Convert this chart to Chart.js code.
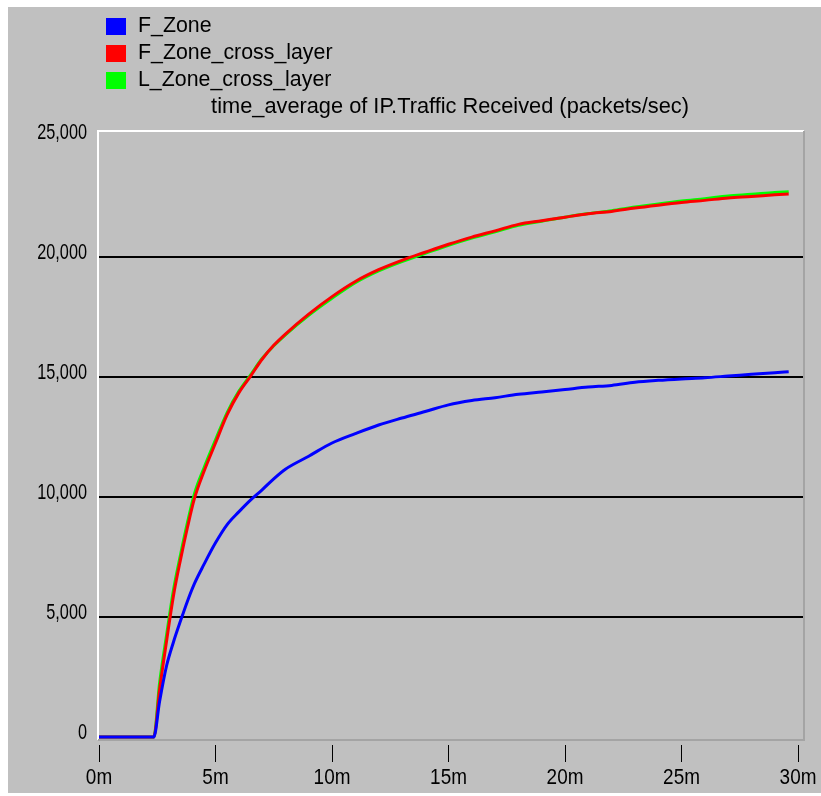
<!DOCTYPE html>
<html>
<head>
<meta charset="utf-8">
<script src="https://cdn.jsdelivr.net/npm/chart.js@4.4.1/dist/chart.umd.min.js"></script>
<style>
	body { margin: 0; background: #fff; }
	canvas { display: block; }
</style>
</head>
<body>
<canvas id="graficoTrafego" width="821" height="796"></canvas>
<script>
// tempo em minutos
var minutos = [0, 2.35, 2.6, 2.9, 3.2, 3.5, 3.8, 4.1, 4.5, 5, 5.5, 6, 6.5, 7, 7.5, 8, 9, 10, 11, 12, 13, 14, 15,
	16, 17, 18, 19, 20, 21, 22, 23, 24, 25, 26, 27, 28, 29, 29.6];

var fZone = [0, 0, 1480, 2970, 3970, 4840, 5670, 6400, 7180, 8090, 8850, 9380, 9870, 10300, 10760, 11160, 11700,
	12250, 12640, 13000, 13290, 13560, 13840, 14020, 14140, 14280, 14380, 14480, 14580, 14650, 14780, 14860,
	14920, 14970, 15040, 15110, 15180, 15220];

var fZoneCross = [0, 0, 1980, 4000, 5910, 7400, 8750, 9950, 11050, 12250, 13430, 14340, 15030, 15740, 16320,
	16790, 17620, 18350, 18980, 19470, 19860, 20200, 20530, 20830, 21090, 21360, 21510, 21660, 21800, 21900,
	22040, 22160, 22270, 22360, 22460, 22520, 22590, 22625];

var lZoneCross = [0, 0, 2250, 4250, 6150, 7600, 8950, 10150, 11200, 12380, 13520, 14400, 15080, 15770, 16300,
	16760, 17570, 18280, 18930, 19420, 19810, 20150, 20490, 20790, 21050, 21320, 21490, 21660, 21810, 21930,
	22080, 22210, 22330, 22430, 22540, 22610, 22690, 22720];

var nomes = ['F_Zone', 'F_Zone_cross_layer', 'L_Zone_cross_layer'];
var cores = ['#0000ff', '#ff0000', '#00ff00'];
var ticksY = [0, 5000, 10000, 15000, 20000, 25000];
var ticksX = [0, 5, 10, 15, 20, 25, 30];
var titulo = 'time_average of IP.Traffic Received (packets/sec)';

var fonte = '22px "Liberation Sans", Arial, sans-serif';

function pontos(valores) {
	return minutos.map(function(m, i) {
		return { x: m, y: valores[i] };
	});
}

// a fonte da imagem original e estreita nos numeros
function texto(ctx, t, x, y, alinhamento, estreito) {
	ctx.save();
	ctx.translate(x, y);
	ctx.scale(estreito, 1);
	ctx.font = fonte;
	ctx.fillStyle = '#000';
	ctx.textAlign = alinhamento;
	ctx.textBaseline = 'middle';
	ctx.fillText(t, 0, 0);
	ctx.restore();
}

var fundo = {
	id: 'fundo',
	beforeDraw: function(chart) {
		var ctx = chart.ctx;
		ctx.save();
		ctx.fillStyle = '#ffffff';
		ctx.fillRect(0, 0, chart.width, chart.height);
		ctx.fillStyle = '#c0c0c0';
		ctx.fillRect(8, 7, chart.width - 8, chart.height - 10);
		ctx.restore();
	},
	beforeDatasetsDraw: function(chart) {
		var ctx = chart.ctx;
		var a = chart.chartArea;
		var base = a.bottom - 5;
		ctx.save();
		ctx.lineWidth = 2;
		ctx.strokeStyle = '#ffffff';
		ctx.beginPath();
		ctx.moveTo(a.left + 1, base);
		ctx.lineTo(a.left + 1, a.top + 1);
		ctx.lineTo(a.right - 1, a.top + 1);
		ctx.stroke();
		ctx.strokeStyle = '#a4a4a4';
		ctx.beginPath();
		ctx.moveTo(a.right - 1, a.top + 1);
		ctx.lineTo(a.right - 1, base);
		ctx.lineTo(a.left + 1, base);
		ctx.stroke();
		ctx.restore();
	},
	afterDraw: function(chart) {
		var ctx = chart.ctx;
		var sx = chart.scales.x;
		var sy = chart.scales.y;

		ticksY.forEach(function(v) {
			texto(ctx, v.toLocaleString('en-US'), 87, sy.getPixelForValue(v) - 4, 'right', 0.74);
		});
		ticksX.forEach(function(v) {
			texto(ctx, v + 'm', sx.getPixelForValue(v), 778, 'center', 0.86);
		});

		chart.data.datasets.forEach(function(ds, i) {
			var y = 26 + i * 27;
			ctx.fillStyle = ds.borderColor;
			ctx.fillRect(106, y - 8, 20, 17);
			texto(ctx, ds.label, 138, y, 'left', 0.97);
		});
		texto(ctx, titulo, 450, 107, 'center', 0.99);
	}
};

var grafico = new Chart(document.getElementById('graficoTrafego').getContext('2d'), {
	type: 'line',
	data: {
		datasets: [
			{ label: nomes[0], data: pontos(fZone), borderColor: cores[0], backgroundColor: cores[0] },
			{ label: nomes[1], data: pontos(fZoneCross), borderColor: cores[1], backgroundColor: cores[1] },
			{ label: nomes[2], data: pontos(lZoneCross), borderColor: cores[2], backgroundColor: cores[2] }
		]
	},
	options: {
		responsive: false,
		animation: false,
		devicePixelRatio: 1,
		layout: { padding: { top: 130, right: 16, left: 0, bottom: 0 } },
		elements: {
			line: { borderWidth: 3, cubicInterpolationMode: 'monotone', fill: false },
			point: { radius: 0 }
		},
		plugins: {
			legend: { display: false },
			title: { display: false },
			tooltip: { enabled: false }
		},
		scales: {
			x: {
				type: 'linear',
				min: -0.086,
				max: 30.3,
				afterBuildTicks: function(scale) {
					scale.ticks = ticksX.map(function(v) { return { value: v }; });
				},
				afterFit: function(scale) { scale.height = 51; },
				ticks: { display: false },
				grid: { drawOnChartArea: false, color: '#000', tickLength: 17, lineWidth: 1 },
				border: { display: false }
			},
			y: {
				min: -333,
				max: 25292,
				afterBuildTicks: function(scale) {
					scale.ticks = ticksY.map(function(v) { return { value: v }; });
				},
				afterFit: function(scale) { scale.width = 97; },
				ticks: { display: false },
				grid: {
					drawTicks: false,
					lineWidth: 2,
					color: function(c) {
						var v = c.tick ? c.tick.value : 0;
						return (v > 0 && v < 25000) ? '#000' : 'rgba(0,0,0,0)';
					}
				},
				border: { display: false }
			}
		}
	},
	plugins: [fundo]
});
</script>
</body>
</html>
